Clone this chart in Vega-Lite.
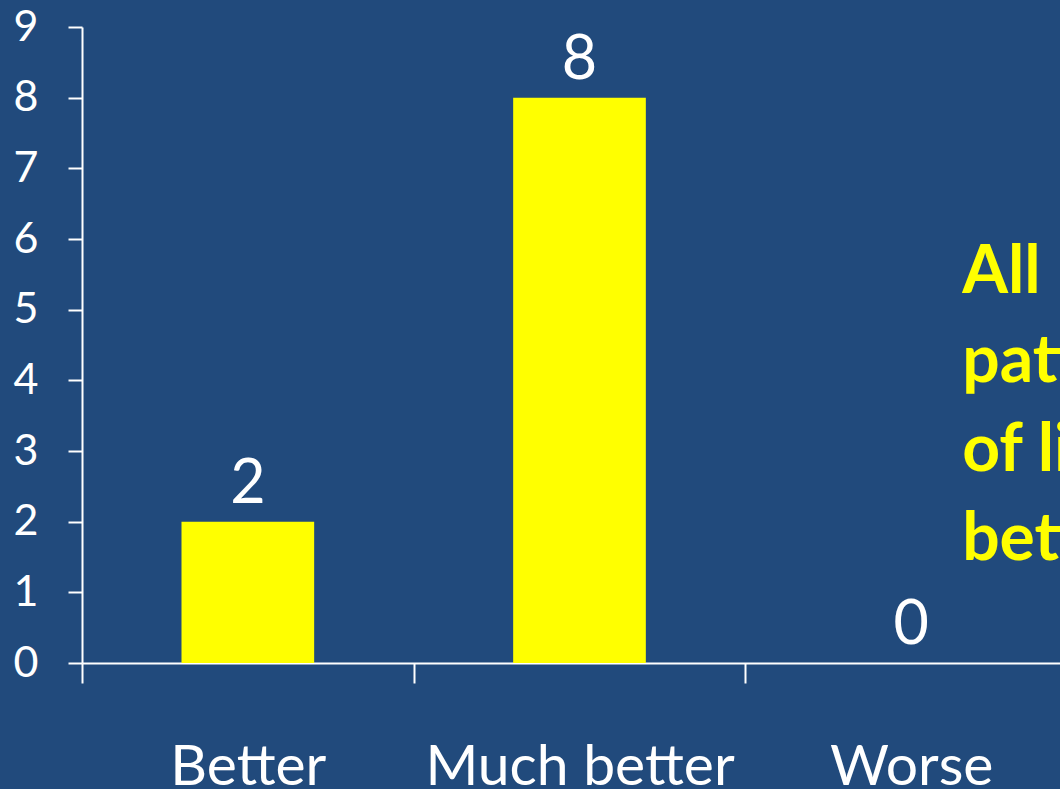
{
  "$schema": "https://vega.github.io/schema/vega-lite/v6.json",
  "width": 995,
  "height": 636,
  "autosize": {"type": "none"},
  "padding": {"left": 82, "top": 27, "right": 0, "bottom": 126},
  "background": "#214A7C",
  "config": {
    "view": {"stroke": null},
    "font": "Lato"
  },
  "data": {
    "values": [
      {"Category": "Better", "Value": 2},
      {"Category": "Much better", "Value": 8},
      {"Category": "Worse", "Value": 0}
    ]
  },
  "layer": [
    {
      "mark": {"type": "bar", "color": "#FFFF00", "width": {"band": 0.4}},
      "encoding": {
        "x": {
          "field": "Category",
          "type": "nominal",
          "sort": null,
          "scale": {"paddingInner": 0, "paddingOuter": 0},
          "axis": {
            "title": null,
            "labelAngle": 0,
            "labelFont": "Lato",
            "labelFontSize": 57,
            "labelColor": "#FFFFFF",
            "labelBaseline": "alphabetic",
            "labelPadding": 101,
            "labelLimit": 0,
            "tickBand": "extent",
            "tickSize": 20,
            "tickWidth": 2,
            "tickColor": "#FFFFFF",
            "domainColor": "#FFFFFF",
            "domainWidth": 2,
            "grid": false
          }
        },
        "y": {
          "field": "Value",
          "type": "quantitative",
          "scale": {"domain": [0, 9], "nice": false},
          "axis": {
            "title": null,
            "values": [0, 1, 2, 3, 4, 5, 6, 7, 8, 9],
            "format": "d",
            "labelFont": "Lato",
            "labelFontSize": 43,
            "labelColor": "#FFFFFF",
            "labelPadding": 30,
            "tickSize": 14,
            "tickWidth": 2,
            "tickColor": "#FFFFFF",
            "domainColor": "#FFFFFF",
            "domainWidth": 2,
            "grid": false
          }
        }
      }
    },
    {
      "mark": {
        "type": "text",
        "color": "#FFFFFF",
        "fontSize": 61,
        "font": "Lato",
        "baseline": "alphabetic",
        "dy": -19
      },
      "encoding": {
        "x": {"field": "Category", "type": "nominal", "sort": null},
        "y": {"field": "Value", "type": "quantitative"},
        "text": {"field": "Value", "type": "quantitative"}
      }
    },
    {
      "data": {"values": [{"Category": "Worse", "Value": 5.23, "note": "All\npatients\nof life\nbetter"}]},
      "mark": {
        "type": "text",
        "color": "#FFFF00",
        "fontSize": 66,
        "fontWeight": "bold",
        "font": "Lato",
        "align": "left",
        "baseline": "alphabetic",
        "lineBreak": "\n",
        "lineHeight": 89,
        "dx": 51
      },
      "encoding": {
        "x": {"field": "Category", "type": "nominal", "sort": null},
        "y": {"field": "Value", "type": "quantitative"},
        "text": {"field": "note", "type": "nominal"}
      }
    }
  ]
}
